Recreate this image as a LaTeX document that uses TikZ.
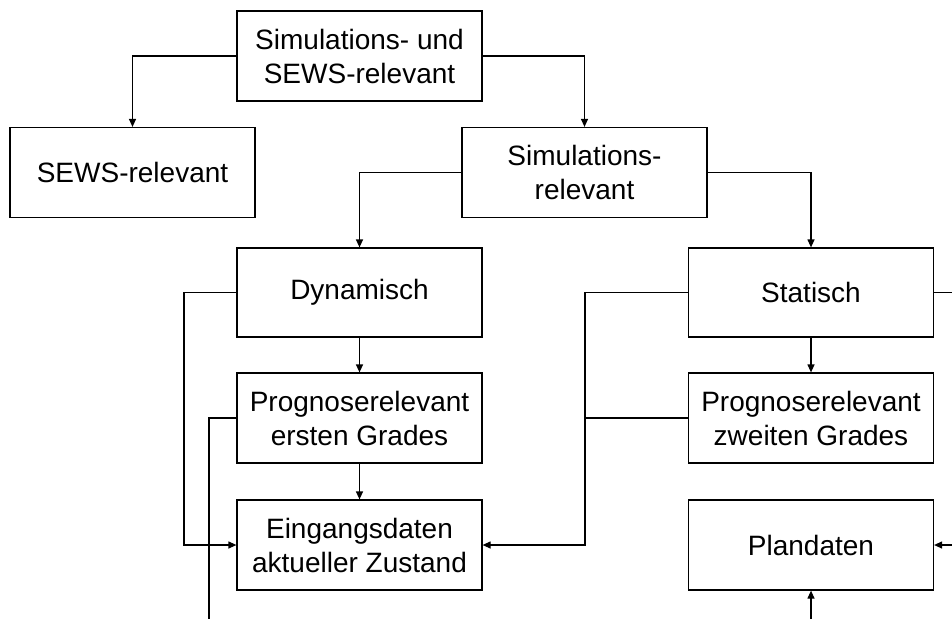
\documentclass[tikz,border=0pt]{standalone}
\usepackage{fontspec}
\setmainfont{Liberation Sans}
\usetikzlibrary{arrows.meta}
\begin{document}
\begin{tikzpicture}[x=1pt,y=-1pt,
  box/.style={draw, line width=1.2pt, minimum width=245pt, minimum height=90pt, inner sep=0pt, align=center, font=\fontsize{28}{34}\selectfont},
  conn/.style={draw, line width=1.2pt},
  arr/.style={conn, -{Triangle[length=8pt,width=7pt]}}]
\useasboundingbox (0,0) rectangle (952,619);
\node[box] (top) at (359.5,56) {Simulations- und\\SEWS-relevant};
\node[box] (sews) at (132.5,172.5) {SEWS-relevant};
\node[box] (sim) at (584.5,172.5) {Simulations-\\relevant};
\node[box, minimum height=89pt] (dyn) at (359.5,292.5) {Dynamisch};
\node[box, minimum height=89pt] (stat) at (811,292.5) {Statisch};
\node[box] (p1) at (359.5,418) {Prognoserelevant\\ersten Grades};
\node[box] (p2) at (811,418) {Prognoserelevant\\zweiten Grades};
\node[box] (ein) at (359.5,545) {Eingangsdaten\\aktueller Zustand};
\node[box] (plan) at (811,545) {Plandaten};
\coordinate (offR) at (952,292.5);
\coordinate (inR) at (952,545);
\coordinate (inB) at (811,619);
\coordinate (offB) at (209,619);
\draw[arr] (top.west) -| (sews.north);
\draw[arr] (top.east) -| (sim.north);
\draw[arr] (sim.west) -| (dyn.north);
\draw[arr] (sim.east) -| (stat.north);
\draw[arr] (dyn.south) -- (p1.north);
\draw[arr] (p1.south) -- (ein.north);
\draw[arr] (stat.south) -- (p2.north);
\draw[arr] (dyn.west) -- (184,292.5) |- (ein.west);
\draw[conn] (p1.west) -- (209,418) -- (offB);
\draw[arr] (stat.west) -- (585,292.5) |- (ein.east);
\draw[conn] (p2.west) -- (585,418);
\draw[conn] (stat.east) -- (offR);
\draw[arr] (inR) -- (plan.east);
\draw[arr] (inB) -- (plan.south);
\end{tikzpicture}
\end{document}
